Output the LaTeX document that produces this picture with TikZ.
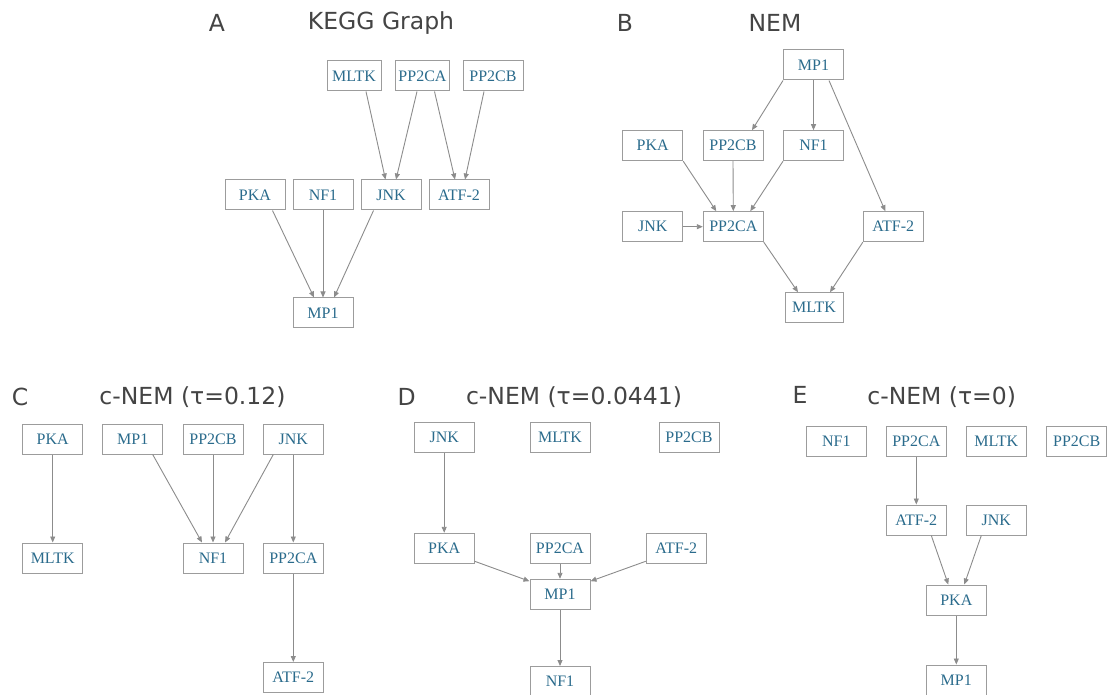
\documentclass[tikz,border=0pt]{standalone}
\usepackage{fontspec}
\setmainfont{Liberation Serif}
\newfontfamily\headfont{DejaVu Sans}
\usetikzlibrary{arrows.meta}
\definecolor{genetext}{HTML}{2A6B8C}
\definecolor{boxline}{HTML}{9C9C9C}
\definecolor{edgeline}{HTML}{8C8C8C}
\definecolor{headtext}{HTML}{444444}
\tikzset{
  gene/.style={draw=boxline, line width=1pt, minimum width=60pt, minimum height=30pt,
    inner sep=0pt, text=genetext, font=\fontsize{16}{16}\selectfont},
  edge/.style={draw=edgeline, line width=0.9pt, -{Triangle[length=6pt,width=5pt]}},
  panel/.style={text=headtext, font=\headfont\fontsize{23.5}{24}\selectfont, inner sep=0pt},
}
\begin{document}
\begin{tikzpicture}[x=1pt,y=-1pt]
\useasboundingbox[fill=white] (0,0) rectangle (1112,695);

% ---- A: KEGG graph ----
\node[panel] (labA) at (217,23) {A};
\node[panel] (titA) at (381,23) {KEGG Graph};
\node[gene, minimum width=54pt] (aMLTK) at (354,76) {MLTK};
\node[gene, minimum width=54pt] (aPP2CA) at (422.5,76) {PP2CA};
\node[gene] (aPP2CB) at (493,76) {PP2CB};
\node[gene] (aPKA) at (255,195) {PKA};
\node[gene] (aNF1) at (323,195) {NF1};
\node[gene] (aJNK) at (391,195) {JNK};
\node[gene] (aATF) at (459,195) {ATF-2};
\node[gene] (aMP1) at (323,313) {MP1};
\draw[edge] ([xshift=12pt]aMLTK.south) -- ([xshift=-5.5pt]aJNK.north);
\draw[edge] ([xshift=-5.5pt]aPP2CA.south) -- ([xshift=5pt]aJNK.north);
\draw[edge] ([xshift=12pt]aPP2CA.south) -- ([xshift=-4pt]aATF.north);
\draw[edge] ([xshift=-9pt]aPP2CB.south) -- ([xshift=6pt]aATF.north);
\draw[edge] ([xshift=17.5pt]aPKA.south) -- ([xshift=-9pt]aMP1.north);
\draw[edge] (aNF1.south) -- (aMP1.north);
\draw[edge] ([xshift=-17.5pt]aJNK.south) -- ([xshift=11pt]aMP1.north);

% ---- B: NEM ----
\node[panel] (labB) at (625,23) {B};
\node[panel] (titB) at (775,23) {NEM};
\node[gene] (bMP1) at (813.5,65) {MP1};
\node[gene] (bPKA) at (652.7,145.7) {PKA};
\node[gene] (bPP2CB) at (733,145.7) {PP2CB};
\node[gene] (bNF1) at (813.5,145.7) {NF1};
\node[gene] (bJNK) at (652.7,226.7) {JNK};
\node[gene] (bPP2CA) at (733.3,226.7) {PP2CA};
\node[gene] (bATF) at (893.3,226.7) {ATF-2};
\node[gene, minimum width=58pt] (bMLTK) at (814,307.7) {MLTK};
\draw[edge] (bMP1.south west) -- ([xshift=19pt]bPP2CB.north);
\draw[edge] (bMP1.south) -- (bNF1.north);
\draw[edge] ([xshift=15.5pt]bMP1.south) -- ([xshift=-8pt]bATF.north);
\draw[edge] (bPKA.south east) -- ([xshift=-17pt]bPP2CA.north);
\draw[edge] (bPP2CB.south) -- (bPP2CA.north);
\draw[edge] (bNF1.south west) -- ([xshift=17pt]bPP2CA.north);
\draw[edge] (bJNK.east) -- (bPP2CA.west);
\draw[edge] (bPP2CA.south east) -- ([xshift=-16pt]bMLTK.north);
\draw[edge] (bATF.south west) -- ([xshift=16pt]bMLTK.north);

% ---- C: c-NEM (tau = 0.12) ----
\node[panel] (labC) at (20,396.7) {C};
\node[panel] (titC) at (192.5,396.7) {c-NEM (τ=0.12)};
\node[gene] (cPKA) at (52.7,439) {PKA};
\node[gene] (cMP1) at (132.7,439) {MP1};
\node[gene] (cPP2CB) at (213,439) {PP2CB};
\node[gene] (cJNK) at (293.3,439) {JNK};
\node[gene] (cMLTK) at (52.7,558) {MLTK};
\node[gene] (cNF1) at (213,558) {NF1};
\node[gene] (cPP2CA) at (293.3,558) {PP2CA};
\node[gene] (cATF) at (293.3,677.5) {ATF-2};
\draw[edge] (cPKA.south) -- (cMLTK.north);
\draw[edge] ([xshift=20pt]cMP1.south) -- ([xshift=-11pt]cNF1.north);
\draw[edge] (cPP2CB.south) -- (cNF1.north);
\draw[edge] ([xshift=-20pt]cJNK.south) -- ([xshift=12pt]cNF1.north);
\draw[edge] (cJNK.south) -- (cPP2CA.north);
\draw[edge] (cPP2CA.south) -- (cATF.north);

% ---- D: c-NEM (tau = 0.0441) ----
\node[panel] (labD) at (406.7,396.7) {D};
\node[panel] (titD) at (574,396.7) {c-NEM (τ=0.0441)};
\node[gene] (dJNK) at (444.2,437) {JNK};
\node[gene] (dMLTK) at (560,437) {MLTK};
\node[gene] (dPP2CB) at (689,437) {PP2CB};
\node[gene] (dPKA) at (444.2,548.3) {PKA};
\node[gene] (dPP2CA) at (560,548.3) {PP2CA};
\node[gene] (dATF) at (676.2,548.3) {ATF-2};
\node[gene] (dMP1) at (560,594.3) {MP1};
\node[gene] (dNF1) at (560,681.5) {NF1};
\draw[edge] (dJNK.south) -- (dPKA.north);
\draw[edge] ([yshift=2.5pt]dPKA.south east) -- ([yshift=-2.4pt]dMP1.north west);
\draw[edge] (dPP2CA.south) -- (dMP1.north);
\draw[edge] ([yshift=2.5pt]dATF.south west) -- ([yshift=-2.4pt]dMP1.north east);
\draw[edge] (dMP1.south) -- (dNF1.north);

% ---- E: c-NEM (tau = 0) ----
\node[panel] (labE) at (800,395) {E};
\node[panel] (titE) at (941.7,396.7) {c-NEM (τ=0)};
\node[gene] (eNF1) at (836.3,441) {NF1};
\node[gene] (ePP2CA) at (916.3,441) {PP2CA};
\node[gene] (eMLTK) at (996.3,441) {MLTK};
\node[gene] (ePP2CB) at (1076.7,441) {PP2CB};
\node[gene] (eATF) at (916.3,520) {ATF-2};
\node[gene] (eJNK) at (996.3,520) {JNK};
\node[gene] (ePKA) at (956.3,600) {PKA};
\node[gene] (eMP1) at (956.3,680) {MP1};
\draw[edge] (ePP2CA.south) -- (eATF.north);
\draw[edge] ([xshift=15pt]eATF.south) -- ([xshift=-8pt]ePKA.north);
\draw[edge] ([xshift=-15pt]eJNK.south) -- ([xshift=8pt]ePKA.north);
\draw[edge] (ePKA.south) -- (eMP1.north);
\end{tikzpicture}
\end{document}
